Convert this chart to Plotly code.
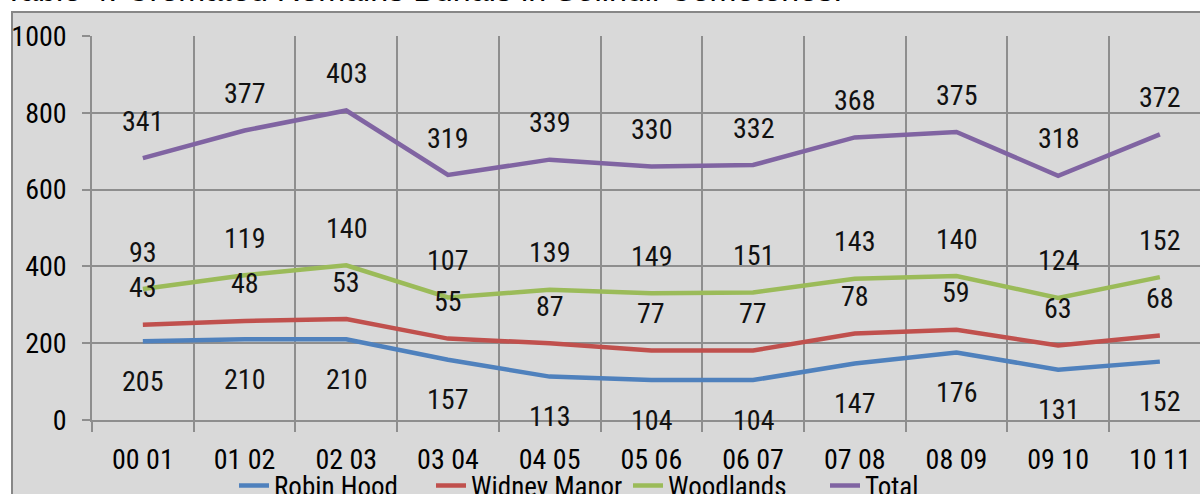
import numpy as np
import plotly.graph_objects as go

# ---- data ----
categories = ["00 01", "01 02", "02 03", "03 04", "04 05", "05 06",
              "06 07", "07 08", "08 09", "09 10", "10 11"]
robin_hood = [205, 210, 210, 157, 113, 104, 104, 147, 176, 131, 152]
widney_manor = [43, 48, 53, 55, 87, 77, 77, 78, 59, 63, 68]
woodlands = [93, 119, 140, 107, 139, 149, 151, 143, 140, 124, 152]
total = [341, 377, 403, 319, 339, 330, 332, 368, 375, 318, 372]
series_names = ["Robin Hood", "Widney Manor", "Woodlands", "Total"]
y_ticks = [0, 200, 400, 600, 800, 1000]
title_text = "Table 4: Cremated Remains Burials in Solihull Cemeteries."

series = [robin_hood, widney_manor, woodlands, total]
colors = ["#4F81BD", "#C0504D", "#9BBB59", "#8064A2"]
label_shift = [-40, 37, 37, 37]

FONT = "Liberation Sans Narrow, Arial Narrow, Roboto Condensed, sans-serif"
GRID = "#8E8E8E"

fig = go.Figure()
for name, vals, col in zip(series_names, series, colors):
    fig.add_trace(go.Scatter(
        x=categories, y=vals, name=name, mode="lines",
        stackgroup="one", fill="none",
        line=dict(color=col, width=4.5),
    ))

# data labels, positioned at the stacked value
stacked = np.cumsum(np.array(series), axis=0)
for s_idx, vals in enumerate(series):
    for i, cat in enumerate(categories):
        fig.add_annotation(
            x=cat, y=float(stacked[s_idx][i]), text=str(vals[i]),
            showarrow=False, yshift=label_shift[s_idx],
            font=dict(family=FONT, size=28, color="#111111"),
        )

# title (partly cut off at top, as in the source)
fig.add_annotation(
    xref="paper", yref="paper", x=(2 - 92) / 1108, y=(420 + 10) / 384,
    xanchor="left", yanchor="middle", showarrow=False, text=title_text,
    font=dict(family="Liberation Sans, Arial, sans-serif", size=32.3, color="#000000"),
)

# chart frame
fig.add_shape(
    type="rect", xref="paper", yref="paper", layer="below",
    x0=(12 - 92) / 1108, x1=1.05, y0=-0.3, y1=(420 - 12) / 384,
    fillcolor="#D9D9D9", line=dict(color="#878787", width=2),
)

fig.update_layout(
    width=1200, height=494,
    margin=dict(l=92, r=0, t=36, b=74, autoexpand=False),
    paper_bgcolor="#FFFFFF", plot_bgcolor="rgba(0,0,0,0)",
    font=dict(family=FONT, size=28, color="#000000"),
    showlegend=True,
    legend=dict(
        orientation="h", x=(234 - 92) / 1108, xanchor="left",
        y=(420 - 486) / 384, yanchor="middle",
        font=dict(family=FONT, size=27, color="#000000"),
        bgcolor="rgba(0,0,0,0)", traceorder="normal",
        itemwidth=30, tracegroupgap=0,
        entrywidth=152, entrywidthmode="pixels",
    ),
    xaxis=dict(
        type="category", categoryorder="array", categoryarray=categories,
        range=[-0.5, -0.5 + 1108 / 101.7], automargin=False,
        tickson="boundaries", ticks="outside", ticklen=10, tickcolor=GRID,
        tickwidth=1.5, showgrid=True, gridcolor=GRID, gridwidth=1.5,
        showline=True, linecolor=GRID, linewidth=1.5,
        ticklabelstandoff=14,
        tickfont=dict(family=FONT, size=28, color="#000000"),
    ),
    yaxis=dict(
        range=[0, 1000], tickvals=y_ticks, ticktext=[str(v) for v in y_ticks],
        automargin=False,
        ticks="outside", ticklen=8, tickcolor=GRID, tickwidth=1.5,
        showgrid=True, gridcolor=GRID, gridwidth=1.5, zeroline=False,
        showline=True, linecolor=GRID, linewidth=1.5,
        ticklabelstandoff=10,
        tickfont=dict(family=FONT, size=28, color="#000000"),
    ),
)

fig.write_html(
    "out.html",
    config={"displayModeBar": False},
    post_script="document.body.style.margin='0px';document.body.style.overflow='hidden';",
)
